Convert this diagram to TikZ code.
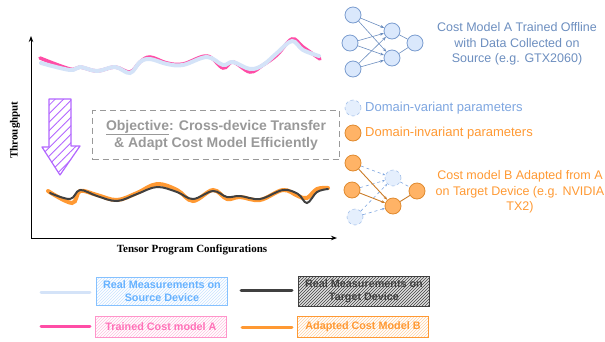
\documentclass[tikz,border=0pt]{standalone}
\usepackage{fontspec}
\setmainfont{Liberation Serif}
\setsansfont{Liberation Sans}
\usetikzlibrary{patterns,patterns.meta,arrows.meta}
\definecolor{pinkc}{HTML}{FF4DA6}
\definecolor{lblue}{HTML}{D4E3F8}
\definecolor{nblue}{HTML}{DAE8FC}
\definecolor{nbluedraw}{HTML}{7A9CCF}
\definecolor{tblue}{HTML}{6C8EBF}
\definecolor{vblue}{HTML}{7EA6E0}
\definecolor{orangec}{HTML}{FF9933}
\definecolor{orfill}{HTML}{FFB366}
\definecolor{ordraw}{HTML}{E08A2E}
\definecolor{darkc}{HTML}{404040}
\definecolor{purplec}{HTML}{B266FF}
\definecolor{objgray}{HTML}{999999}
\definecolor{legblue}{HTML}{66B2FF}
\tikzset{
  neuA/.style={circle, draw=nbluedraw, fill=nblue, minimum size=16pt, inner sep=0pt, line width=0.8pt},
  neuO/.style={circle, draw=ordraw, fill=orfill, minimum size=16pt, inner sep=0pt, line width=0.8pt},
  neuV/.style={circle, draw=vblue!70, fill=nblue!70, dashed, minimum size=16pt, inner sep=0pt, line width=0.6pt},
  edgeA/.style={draw=tblue, line width=0.6pt, -{Stealth[length=4pt]}},
  edgeO/.style={draw=ordraw!90!black, line width=0.9pt},
  edgeV/.style={draw=vblue, dashed, line width=0.6pt, -{Stealth[length=3pt]}},
  legbox/.style={minimum width=131pt, align=center, inner sep=1pt, line width=0.8pt, font=\sffamily\bfseries\fontsize{10.8}{13.5}\selectfont},
  legline/.style={line width=3pt, line cap=round},
  axlab/.style={font=\bfseries\fontsize{11}{13}\selectfont},
}
\begin{document}
\begin{tikzpicture}[x=1pt,y=-1pt]
\useasboundingbox (0,0) rectangle (605,341);
% axes
\coordinate (o) at (31,238);
\coordinate (ytop) at (31,36);
\coordinate (xend) at (337,238);
\draw[line width=1pt, -{Stealth[length=6pt]}] (o) -- (ytop);
\draw[line width=1pt, -{Stealth[length=6pt]}] (o) -- (xend);
\node[axlab, rotate=90] (ylab) at (15,130) {Throughput};
\node[axlab] (xlab) at (192,250) {Tensor Program Configurations};
% top curves
\draw[pinkc, line width=3.5pt, line cap=round] plot[smooth, tension=0.6] coordinates {(40,58) (70,69) (80,67) (97,71) (115,67) (130,72) (140,62) (150,57) (167,63) (183,64) (207,56) (223,68) (233,62) (250,72) (263,65) (277,55) (292,39) (303,47) (320,59)};
\draw[lblue, line width=4pt, line cap=round] plot[smooth, tension=0.6] coordinates {(41,63) (70,70) (80,67) (97,71) (115,67) (130,73) (140,62) (150,59) (167,64) (183,65) (207,57) (223,65) (233,62) (250,69) (263,65) (277,53) (292,41) (303,50) (319,56)};
% bottom curves
\draw[orangec, line width=4pt, line cap=round] plot[smooth, tension=0.6] coordinates {(48,191) (72,203) (80,191) (97,195) (117,200) (137,193) (157,184) (177,190) (193,201) (213,190) (227,199) (240,197) (260,200) (283,190) (298,196) (307,198) (317,189) (328,188)};
\draw[darkc, line width=2pt, line cap=round] plot[smooth, tension=0.6] coordinates {(50,193) (70,199) (80,190) (97,196) (117,201) (137,194) (157,187) (177,192) (193,199) (213,191) (227,197) (240,196) (260,199) (283,190) (298,194) (307,203) (317,192) (328,189)};
% purple arrow
\path[draw=purplec, line width=1.2pt, pattern={Lines[angle=45, distance=6pt, line width=0.8pt]}, pattern color=purplec, line join=round]
  (49,99) -- (71,99) -- (71,146) -- (80,146) -- (60,175) -- (42,147) -- (49,147) -- cycle;
\coordinate (arrtip) at (60,175);
% objective box
\node[draw=objgray, line width=1.6pt, dash pattern=on 6pt off 4pt, minimum width=247pt, minimum height=49pt, align=center, text=objgray, font=\sffamily\bfseries\fontsize{14}{17}\selectfont] (obj) at (216,135) {\underline{Objective}: Cross-device Transfer\\\& Adapt Cost Model Efficiently};
% top net
\node[neuA] (a1) at (353,15) {};
\node[neuA] (a2) at (350,43) {};
\node[neuA] (a3) at (353,69) {};
\node[neuA] (ah1) at (392,31) {};
\node[neuA] (ah2) at (392,58) {};
\node[neuA] (ao) at (415,43) {};
\foreach \i in {a1,a2,a3}{\foreach \j in {ah1,ah2}{\draw[edgeA] (\i) -- (\j);}}
\draw[tblue, line width=0.6pt] (ah1) -- (ao);
\draw[tblue, line width=0.6pt] (ah2) -- (ao);
\node[text=tblue, align=center, font=\sffamily\fontsize{12.5}{15.5}\selectfont] (atext) at (517,44) {Cost Model A Trained Offline\\with Data Collected on\\Source (e.g. GTX2060)};
% legend of params
\node[neuV] (lv) at (353,108) {};
\node[anchor=west, text=vblue, font=\sffamily\fontsize{13}{15}\selectfont, inner sep=0pt] (lvt) at (365,108) {Domain-variant parameters};
\node[neuO] (lo) at (353,133) {};
\node[anchor=west, text=orangec, font=\sffamily\fontsize{13}{15}\selectfont, inner sep=0pt] (lot) at (365,133) {Domain-invariant parameters};
% bottom net
\node[neuO] (b1) at (353,163) {};
\node[neuO] (b2) at (352,190) {};
\node[neuV] (b3) at (355,217) {};
\node[neuV] (bh1) at (393,178) {};
\node[neuO] (bh2) at (393,206) {};
\node[neuO] (bo) at (417,191) {};
\draw[edgeV] (b1) -- (bh1);
\draw[edgeV] (b2) -- (bh1);
\draw[edgeV] (b3) -- (bh1);
\draw[edgeV] (b3) -- (bh2);
\draw[vblue, dashed, line width=0.6pt] (bh1) -- (bo);
\draw[edgeO, -{Stealth[length=4pt]}] (b1) -- (bh2);
\draw[edgeO, -{Stealth[length=4pt]}] (b2) -- (bh2);
\draw[edgeO] (bh2) -- (bo);
\node[text=orangec, align=center, font=\sffamily\fontsize{12.5}{15.5}\selectfont] (btext) at (520,192) {Cost model B Adapted from A\\on Target Device (e.g. NVIDIA\\TX2)};
% bottom legend
\coordinate (l1a) at (41,292); \coordinate (l1b) at (90,292);
\draw[legline, lblue] (l1a) -- (l1b);
\node[legbox, draw=legblue!80, text=legblue, minimum height=28pt, preaction={fill=white}, pattern=north east lines, pattern color=legblue!35] (lb1) at (162,291) {Real Measurements on\\Source Device};
\coordinate (l2a) at (241,290); \coordinate (l2b) at (292,290);
\draw[legline, darkc] (l2a) -- (l2b);
\node[legbox, draw=darkc, text=darkc, minimum height=30pt, preaction={fill=gray!25}, pattern=north east lines, pattern color=darkc] (lb2) at (364,291) {Real Measurements on\\Target Device};
\coordinate (l3a) at (41,326); \coordinate (l3b) at (90,326);
\draw[legline, pinkc] (l3a) -- (l3b);
\node[legbox, draw=pinkc!60, text=pinkc!80, minimum height=21pt, preaction={fill=white}, pattern=north east lines, pattern color=pinkc!35] (lb3) at (161,326.5) {Trained Cost model A};
\coordinate (l4a) at (242,327); \coordinate (l4b) at (292,327);
\draw[legline, orangec] (l4a) -- (l4b);
\node[legbox, draw=orangec, text=orangec, minimum height=21pt, preaction={fill=white}, pattern=north east lines, pattern color=orangec!45] (lb4) at (363,326.5) {Adapted Cost Model B};
\end{tikzpicture}
\end{document}
